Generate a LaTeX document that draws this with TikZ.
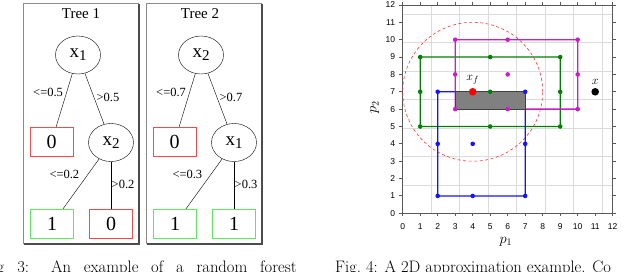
\documentclass[tikz,border=0pt]{standalone}
\usepackage{fontspec}
\newfontfamily\timesfont{Liberation Serif}
\newfontfamily\arialfont{Liberation Sans}
\usetikzlibrary{shapes.geometric}
\definecolor{leafred}{RGB}{255,70,70}
\definecolor{leafgreen}{RGB}{90,235,90}
\definecolor{regblue}{RGB}{20,20,255}
\definecolor{reggreen}{RGB}{0,128,0}
\definecolor{regmagenta}{RGB}{200,30,200}
\newcommand{\xsub}[1]{x\raisebox{-3pt}{\fontsize{15}{15}\selectfont #1}}
% outline of a region box, drawn as a filled frame
\newcommand{\regionframe}[3]{%
  \fill [#1, even odd rule]
    ([shift={(-0.65pt,-0.65pt)}]#2) rectangle ([shift={(0.65pt,0.65pt)}]#3)
    ([shift={(0.65pt,0.65pt)}]#2) rectangle ([shift={(-0.65pt,-0.65pt)}]#3);}
\begin{document}
\begin{tikzpicture}
[
x = 1pt, y = -1pt,
split/.style = {ellipse, draw, minimum width=45pt, minimum height=38pt, inner sep=0pt, font=\timesfont\fontsize{19}{19}\selectfont},
leaf/.style = {rectangle, fill=#1, minimum width=44pt, minimum height=30pt, inner sep=0pt, font=\timesfont\fontsize{20}{20}\selectfont,
    path picture={\fill [white] ([shift={(1pt,-1pt)}]path picture bounding box.north west) rectangle ([shift={(-1pt,1pt)}]path picture bounding box.south east);}},
cond/.style = {font=\timesfont\fontsize{12.5}{12.5}\selectfont, inner sep=0.5pt},
title/.style = {font=\timesfont\fontsize{15}{15}\selectfont},
panel/.style = {draw=black!45, line width=0.6pt},
shade/.style = {draw=black!70, line width=1.8pt},
gridline/.style = {draw=black!14, line width=0.7pt},
frame/.style = {draw=black!65, line width=0.9pt},
ticklabel/.style = {font=\arialfont\fontsize{8.5}{8.5}\selectfont, inner sep=0pt},
caption/.style = {font=\fontsize{16.6}{18}\selectfont, inner sep=0pt, anchor=base west}
]
\useasboundingbox (0,0) rectangle (640,271);

% tree 1
\draw [panel] (23,3) rectangle (138.5,243.5);
\draw [shade] (24,244.3) -- (139.3,244.3) -- (139.3,4);
\node [title] (t1title) at (81,14) {Tree 1};
\node [split] (t1x1) at (78,55) {\xsub{1}};
\node [leaf=leafred] (t1l0) at (51.5,142) {0};
\node [split] (t1x2) at (111,142.5) {\xsub{2}};
\node [leaf=leafgreen] (t1l1) at (52,224) {1};
\node [leaf=leafred] (t1l2) at (111,224) {0};
\draw (t1x1) -- node [cond, pos=0.35, left=3pt] {<=0.5} (t1l0);
\draw (t1x1) -- node [cond, pos=0.47, right=2pt] {>0.5} (t1x2);
\draw (t1x2) -- node [cond, pos=0.31, left=8pt] {<=0.2} (t1l1);
\draw (t1x2) -- node [cond, pos=0.48, anchor=west] {>0.2} (t1l2);

% tree 2
\draw [panel] (146,3) rectangle (261.5,243.5);
\draw [shade] (147,244.3) -- (262.3,244.3) -- (262.3,4);
\node [title] (t2title) at (200,14) {Tree 2};
\node [split] (t2x2) at (201,55) {\xsub{2}};
\node [leaf=leafred] (t2l0) at (174.5,142) {0};
\node [split] (t2x1) at (234,142.5) {\xsub{1}};
\node [leaf=leafgreen] (t2l1) at (175,224) {1};
\node [leaf=leafgreen] (t2l2) at (234,224) {1};
\draw (t2x2) -- node [cond, pos=0.35, left=3pt] {<=0.7} (t2l0);
\draw (t2x2) -- node [cond, pos=0.47, right=2pt] {>0.7} (t2x1);
\draw (t2x1) -- node [cond, pos=0.31, left=8pt] {<=0.3} (t2l1);
\draw (t2x1) -- node [cond, pos=0.48, anchor=west] {>0.3} (t2l2);

% approximation plot
\begin{scope}[shift={(402.7,213.3)}, x=17.5pt, y=17.36pt]
\draw [gridline] (0,0) grid (12,12);
\foreach \i in {0,...,12}
{
    \draw [frame] (\i,0) -- ++(0,-0.17) (\i,12) -- ++(0,0.17)
                  (0,\i) -- ++(-0.19,0) (12,\i) -- ++(0.19,0);
    \node [ticklabel, below=10pt] (xl\i) at (\i,0) {\i};
    \node [ticklabel, left=7.5pt] (yl\i) at (0,\i) {\i};
}
\draw [frame] (0,0) rectangle (12,12);
\node [font=\fontsize{14}{14}\selectfont] (p1) at (5.9,-1.65) {$p_1$};
\node [font=\fontsize{14}{14}\selectfont, rotate=90] (p2) at (-1.6,6.1) {$p_2$};

\draw [red!80, dash pattern=on 3pt off 2.5pt, line width=0.6pt] (4,7) circle (4);
\regionframe{reggreen}{1,5}{9,9}
\regionframe{regblue}{2,1}{7,7}
\regionframe{regmagenta}{3,6}{10,10}
\fill [black!75] (3,6) ++(-0.5pt,-0.5pt) rectangle ([shift={(0.5pt,0.5pt)}]7,7);
\fill [black!50] (3,6) ++(0.5pt,0.5pt) rectangle ([shift={(-0.5pt,-0.5pt)}]7,7);
\foreach \p in {(1,5),(5,5),(9,5),(1,7),(5,7),(9,7),(1,9),(5,9),(9,9)}
    \fill [reggreen] \p circle (2.3pt);
\foreach \p in {(2,1),(4,1),(7,1),(2,4),(4,4),(7,4),(2,7),(7,7)}
    \fill [regblue] \p circle (2.3pt);
\foreach \p in {(3,6),(6,6),(10,6),(3,8),(6,8),(10,8),(3,10),(6,10),(10,10)}
    \fill [regmagenta] \p circle (2.3pt);
\fill [red] (4,7) circle (3.8pt);
\fill [black] (11,7) circle (3.8pt);
\node [font=\fontsize{13}{13}\selectfont, above=3.5pt] (xf) at (4,7) {$x_f$};
\node [font=\fontsize{13}{13}\selectfont, above=3.5pt] (xq) at (11,7) {$x$};
\end{scope}

% captions
\node [caption, anchor=base east] (cap3) at (297,272.5) {\makebox[314pt][s]{Fig~3: An example of a random forest}};
\node [caption] (cap4) at (335,272.5) {Fig.~4: A 2D approximation example. Co};
\end{tikzpicture}
\end{document}
